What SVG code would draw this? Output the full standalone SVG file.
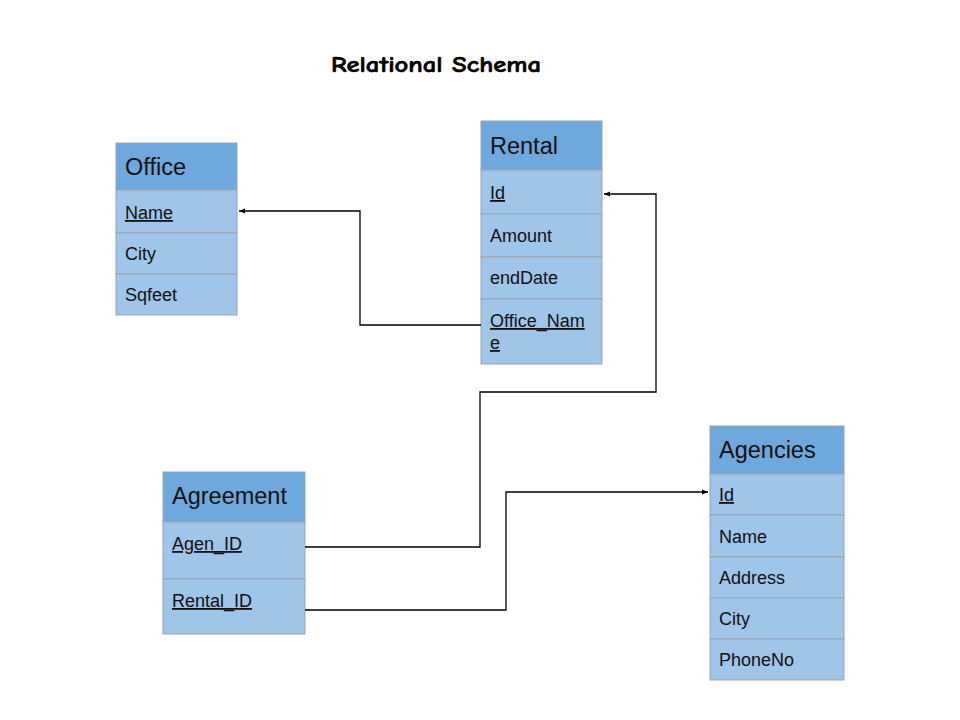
<svg xmlns="http://www.w3.org/2000/svg" width="960" height="720" viewBox="0 0 960 720">
<style>
.h{fill:#6fa8dc;stroke:#9aa5b1;stroke-width:1}
.r{fill:#9fc5e8;stroke:#9aa5b1;stroke-width:1}
.ht{font-family:"Liberation Sans",Arial,sans-serif;font-size:23.5px;fill:#111}
.rt{font-family:"Liberation Sans",Arial,sans-serif;font-size:18px;fill:#111}
.u{text-decoration:underline}
.c{fill:none;stroke:#000;stroke-width:1.3}
.title{font-family:"Comic Sans MS","Comic Neue","DejaVu Sans",sans-serif;font-weight:bold;font-size:23px;fill:#000;stroke:#000;stroke-width:0.6}
</style>
<defs>
<marker id="ar" viewBox="0 0 10 10" refX="10" refY="5" markerWidth="6" markerHeight="6" markerUnits="userSpaceOnUse" orient="auto">
<path d="M0,1 L10,5 L0,9 Z" fill="#000"/>
</marker>
</defs>
<rect width="960" height="720" fill="#fff"/>
<text class="title" x="331" y="72" textLength="210" lengthAdjust="spacingAndGlyphs">Relational Schema</text>

<g id="office">
<rect class="h" x="116" y="143" width="121" height="47"/>
<rect class="r" x="116" y="190" width="121" height="43"/>
<rect class="r" x="116" y="233" width="121" height="41"/>
<rect class="r" x="116" y="274" width="121" height="41"/>
<text class="ht" x="125" y="175">Office</text>
<text class="rt u" x="125" y="219">Name</text>
<text class="rt" x="125" y="260">City</text>
<text class="rt" x="125" y="301">Sqfeet</text>
</g>

<g id="rental">
<rect class="h" x="481" y="121" width="121" height="49"/>
<rect class="r" x="481" y="170" width="121" height="44"/>
<rect class="r" x="481" y="214" width="121" height="43"/>
<rect class="r" x="481" y="257" width="121" height="42"/>
<rect class="r" x="481" y="299" width="121" height="65"/>
<text class="ht" x="490" y="154">Rental</text>
<text class="rt u" x="490" y="199">Id</text>
<text class="rt" x="490" y="242">Amount</text>
<text class="rt" x="490" y="284">endDate</text>
<text class="rt u" x="490" y="327">Office_Nam</text>
<text class="rt u" x="490" y="349">e</text>
</g>

<g id="agreement">
<rect class="h" x="163" y="472" width="142" height="50"/>
<rect class="r" x="163" y="522" width="142" height="57"/>
<rect class="r" x="163" y="579" width="142" height="55"/>
<text class="ht" x="172" y="504">Agreement</text>
<text class="rt u" x="172" y="550">Agen_ID</text>
<text class="rt u" x="172" y="607">Rental_ID</text>
</g>

<g id="agencies">
<rect class="h" x="710" y="426" width="134" height="48"/>
<rect class="r" x="710" y="474" width="134" height="41"/>
<rect class="r" x="710" y="515" width="134" height="42"/>
<rect class="r" x="710" y="557" width="134" height="41"/>
<rect class="r" x="710" y="598" width="134" height="41"/>
<rect class="r" x="710" y="639" width="134" height="41"/>
<text class="ht" x="719" y="458">Agencies</text>
<text class="rt u" x="719" y="501">Id</text>
<text class="rt" x="719" y="543">Name</text>
<text class="rt" x="719" y="584">Address</text>
<text class="rt" x="719" y="625">City</text>
<text class="rt" x="719" y="666">PhoneNo</text>
</g>

<g id="connectors">
<path class="c" d="M481,325 H360 V211 H239" marker-end="url(#ar)"/>
<path class="c" d="M305,547 H480 V392 H656 V194 H604" marker-end="url(#ar)"/>
<path class="c" d="M305,610 H506 V492 H708" marker-end="url(#ar)"/>
</g>
</svg>
